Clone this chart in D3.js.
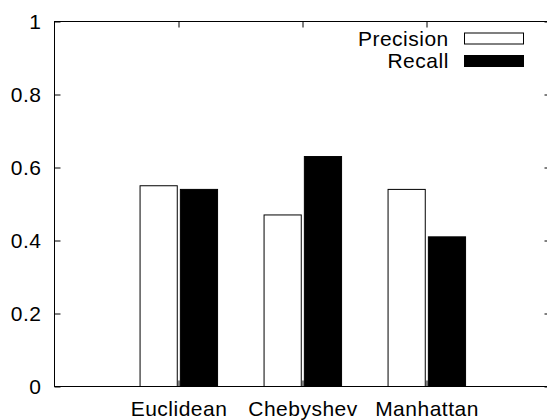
<!DOCTYPE html>
<html>
<head>
<meta charset="utf-8">
<script src="https://cdn.jsdelivr.net/npm/d3@7"></script>
<style>
  html, body { margin: 0; padding: 0; background: #fff; overflow: hidden; }
  svg { display: block; }
  text { font-family: "Liberation Sans", Arial, Helvetica, sans-serif; font-size: 21px; letter-spacing: 0.5px; fill: #000; }
</style>
</head>
<body>
<script>
const categories = ["Euclidean", "Chebyshev", "Manhattan"];
const precision = [0.55, 0.47, 0.54];
const recall = [0.54, 0.63, 0.41];
const seriesNames = ["Precision", "Recall"];
const yTicks = [0, 0.2, 0.4, 0.6, 0.8, 1];
const yTickLabels = ["0", "0.2", "0.4", "0.6", "0.8", "1"];

const W = 547, H = 420;
const svg = d3.select("body").append("svg").attr("width", W).attr("height", H);

const x = d3.scaleLinear().domain([-1, 3]).range([54.5, 550.5]);
const y = d3.scaleLinear().domain([0, 1]).range([386.5, 21.5]);

const barW = 0.3;
const series = [
  { name: seriesNames[0], values: precision, fill: "#fff", offset: -0.31 },
  { name: seriesNames[1], values: recall, fill: "#000", offset: 0.015 }
];

// bars
series.forEach(s => {
  svg.append("g").selectAll("rect").data(s.values).join("rect")
    .attr("x", (d, i) => x(i + s.offset))
    .attr("y", d => y(d))
    .attr("width", x(barW) - x(0))
    .attr("height", d => y(0) - y(d))
    .attr("fill", s.fill)
    .attr("stroke", "#000")
    .attr("stroke-width", 1);
});

// axes
const yAxis = d3.axisLeft(y).tickValues(yTicks)
  .tickFormat((d, i) => yTickLabels[i]).tickSize(-6).tickPadding(13);
const gy = svg.append("g").attr("transform", "translate(54.5,0)").call(yAxis);

const yAxisR = d3.axisRight(y).tickValues(yTicks).tickFormat("").tickSize(-6);
svg.append("g").attr("transform", "translate(550.5,0)").call(yAxisR);

const xAxis = d3.axisBottom(x).tickValues(categories.map((c, i) => i))
  .tickFormat(i => categories[i]).tickSize(-6).tickPadding(14.5);
const gx = svg.append("g").attr("transform", "translate(0,386.5)").call(xAxis);

const xAxisT = d3.axisTop(x).tickValues(categories.map((c, i) => i))
  .tickFormat("").tickSize(-6);
svg.append("g").attr("transform", "translate(0,21.5)").call(xAxisT);

svg.selectAll(".domain").remove();
svg.selectAll(".tick line").attr("stroke", "#000");
svg.selectAll("g").attr("font-family", null).attr("font-size", null);

// border
svg.append("rect")
  .attr("x", x(-1)).attr("y", y(1))
  .attr("width", x(3) - x(-1)).attr("height", y(0) - y(1))
  .attr("fill", "none").attr("stroke", "#000").attr("stroke-width", 1);

// legend
const leg = svg.append("g");
series.forEach((s, i) => {
  const cy = 38.5 + i * 22.5;
  leg.append("text").attr("x", 448.8).attr("y", cy + 7.2).attr("text-anchor", "end").text(s.name);
  leg.append("rect").attr("x", 464.5).attr("y", cy - 5.5).attr("width", 59).attr("height", 11)
    .attr("fill", s.fill).attr("stroke", "#000").attr("stroke-width", 1);
});
</script>
</body>
</html>
